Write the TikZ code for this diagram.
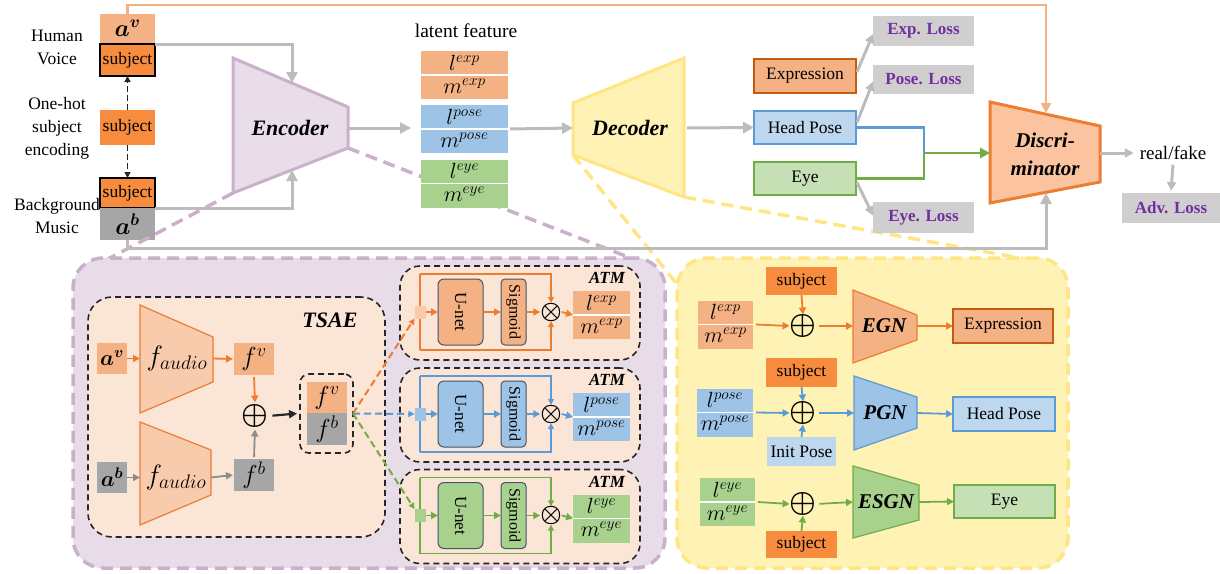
\RequirePackage{fix-cm}
\documentclass[tikz,border=0pt]{standalone}
\usepackage{amsmath}
\usepackage{bm}
\usepackage{graphicx}
\usepackage{fontspec}
\setmainfont{Liberation Serif}
\usetikzlibrary{arrows.meta,calc}
\definecolor{lor}{HTML}{F4B183}
\definecolor{sor}{HTML}{F88C3E}
\definecolor{dor}{HTML}{C55A11}
\definecolor{mor}{HTML}{ED7D31}
\definecolor{pch}{HTML}{F8CBAD}
\definecolor{disf}{HTML}{FBC3A0}
\definecolor{lbl}{HTML}{9DC3E6}
\definecolor{llbl}{HTML}{BDD7EE}
\definecolor{bbl}{HTML}{5B9BD5}
\definecolor{lgr}{HTML}{A9D18E}
\definecolor{llgr}{HTML}{C5E0B4}
\definecolor{bgr}{HTML}{70AD47}
\definecolor{gra}{HTML}{A6A6A6}
\definecolor{agr}{HTML}{BCBCBC}
\definecolor{mgr}{HTML}{8C8C8C}
\definecolor{lossf}{HTML}{D0CECE}
\definecolor{lossp}{HTML}{7030A0}
\definecolor{encf}{HTML}{E8DDE9}
\definecolor{encb}{HTML}{CAB0CA}
\definecolor{purf}{HTML}{E7DCE7}
\definecolor{yelf}{HTML}{FFF2B5}
\definecolor{yelb}{HTML}{FFE583}
\definecolor{peach}{HTML}{FBE5D6}
\definecolor{udark}{HTML}{44546A}
\newcommand\txtBI[1]{\fontsize{#1}{#1}\selectfont\bfseries\itshape}
\newcommand\mathsz{\fontsize{22}{22}\selectfont}
\newcommand\opsz{\fontsize{30}{30}\selectfont}
\newcommand\lmpair[6]{%
  \node[fill=#5, minimum width=#4, minimum height=48] (#1) at (#2,#3) {};
  \draw[white, line width=1.3] (#1.west) -- (#1.east);
  \node[font=\mathsz] (#1a) at ($(#1)+(0,-12.5)$) {$l^{#6}$};
  \node[font=\mathsz] (#1b) at ($(#1)+(0,11)$) {$m^{#6}$};
}
\newcommand\myatm[6]{%
  \node[dbox, minimum width=240, minimum height=94] (#5box) at (520,#1+1) {};
  \node[font={\txtBI{17}}] (#5lab) at (607,#1-34) {ATM};
  \node[fill=#3, minimum width=11, minimum height=13] (#5sq) at (420,#1) {};
  \node[fill=#4, draw=udark, line width=1, rounded corners=6pt, minimum width=45, minimum height=66] (#5un) at (460.5,#1) {};
  \node[rotate=-90, font=\fontsize{17}{17}\selectfont] (#5unt) at (460.5,#1) {U-net};
  \node[fill=#4, draw=udark, line width=1, rounded corners=4pt, minimum width=25, minimum height=66] (#5sg) at (513.5,#1) {};
  \node[rotate=-90, font=\fontsize{16}{16}\selectfont] (#5sgt) at (513.5,#1) {Sigmoid};
  \node[font=\fontsize{24}{24}\selectfont] (#5ot) at (551,#1) {$\bm{\otimes}$};
  \lmpair{#5out}{601.5}{#1+3}{57}{#4}{#6}
  \coordinate (#5tl) at (420,#1-38);
  \coordinate (#5bl) at (420,#1+38);
  \draw[#2, line width=1.5] (#5sq.north) -- (#5tl);
  \draw[#2, line width=1.5] (#5sq.south) -- (#5bl);
  \draw[#2, line width=1.5, -{Triangle[length=6pt,width=6pt]}] (#5tl) -| (#5ot.north);
  \draw[#2, line width=1.5, -{Triangle[length=6pt,width=6pt]}] (#5bl) -| (#5ot.south);
  \draw[#2, sarr] (#5sq.east) -- (#5un.west);
  \draw[#2, sarr] (#5un.east) -- (#5sg.west);
  \draw[#2, sarr] (#5sg.east) -- (#5ot.west);
  \draw[#2, sarr] (#5ot.east) -- (#5out.west);
}
\begin{document}
\begin{tikzpicture}[x=1pt,y=-1pt, font=\fontsize{17.5}{23}\selectfont,
  every node/.style={inner sep=0pt, outer sep=0pt},
  garr/.style={draw=agr, line width=3pt, -{Triangle[length=11pt,width=11pt]}},
  garrs/.style={draw=agr, line width=3pt, -{Triangle[length=9pt,width=9pt]}},
  sarr/.style={line width=1.8pt, -{Triangle[length=7pt,width=7pt]}},
  dbox/.style={draw=black!85, line width=1.6pt, dash pattern=on 6pt off 4pt, rounded corners=20pt, fill=peach},
  region/.style={line width=3.5pt, dash pattern=on 12pt off 7pt, rounded corners=30pt},
  lossbox/.style={fill=lossf, text=lossp, font=\fontsize{17}{17}\selectfont\bfseries},
  subj/.style={fill=sor, minimum width=55},
]
\useasboundingbox (0,0) rectangle (1220,573);

% ---------- top-left inputs ----------
\node[fill=lor, minimum width=55, minimum height=29] (av) at (127.5,28.5) {\fontsize{24}{24}\selectfont$\bm{a}^{\bm{v}}$};
\node[subj, draw=black, line width=1.2, minimum height=32] (s1) at (127.5,60) {subject};
\node[subj, minimum height=35] (s0) at (127.5,127.5) {subject};
\node[subj, draw=black, line width=1.2, minimum height=30] (s2) at (127.5,193) {subject};
\node[fill=gra, minimum width=55, minimum height=32] (ab) at (127.5,224) {\fontsize{24}{24}\selectfont$\bm{a}^{\bm{b}}$};
\node[align=center] (hv) at (57,47) {Human\\Voice};
\node[align=center] (oh) at (57,128) {One-hot\\subject\\encoding};
\node[align=center] (bm) at (57,216) {Background\\Music};
\draw[black!85, line width=1.3pt, dash pattern=on 6pt off 3pt, -{Triangle[length=6pt,width=6pt]}] (s0.north) -- (s1.south);
\draw[black!85, line width=1.3pt, dash pattern=on 6pt off 3pt, -{Triangle[length=6pt,width=6pt]}] (s0.south) -- (s2.north);

% ---------- encoder ----------
\draw[fill=encf, draw=encb, line width=3pt] (233,58) -- (348,107) -- (348,148) -- (233,193) -- cycle;
\node[font={\txtBI{22}}] (enc) at (290,128) {Encoder};
\coordinate (encR) at (349,128);
\coordinate (encT) at (292,83);
\coordinate (encB) at (292,170);
\coordinate (encBL) at (233,193);
\coordinate (encBR) at (348,148);
\draw[garr] (s1.north east) -| (encT);
\draw[garr] (s2.south east) -| (encB);

% ---------- decoder ----------
\draw[fill=yelf, draw=yelb, line width=3pt] (573,103) -- (684,58) -- (684,197) -- (573,155) -- cycle;
\node[font={\txtBI{22}}] (dec) at (630,128) {Decoder};
\coordinate (decL) at (573,128);
\coordinate (decR) at (687,128);
\coordinate (decBL) at (573,155);
\coordinate (decBR) at (684,197);

% ---------- dashed zoom connectors ----------
\coordinate (purTL) at (108,259);
\coordinate (purTR) at (641,262);
\coordinate (yelTL) at (677,284);
\coordinate (yelTR) at (1042,262);
\draw[encb, line width=3.5pt, dash pattern=on 12pt off 7pt] (encBL) -- (purTL);
\draw[encb, line width=3.5pt, dash pattern=on 12pt off 7pt] (encBR) -- (purTR);
\draw[yelb, line width=3.5pt, dash pattern=on 12pt off 7pt] (decBL) -- (yelTL);
\draw[yelb, line width=3.5pt, dash pattern=on 12pt off 7pt] (decBR) -- (yelTR);

% ---------- latent features ----------
\node (lf) at (466,31) {\fontsize{19.5}{20}\selectfont latent feature};
\lmpair{lexp}{464.5}{75}{87}{lor}{exp}
\lmpair{lpose}{464.5}{129}{87}{lbl}{pose}
\lmpair{leye}{464.5}{183.5}{87}{lgr}{eye}
\coordinate (latIn) at (411,128);
\draw[garr] (encR) -- (latIn);
\draw[garr] ($(lpose.east)+(2,0)$) -- (decL);

% ---------- outputs ----------
\node[fill=lor, draw=dor, line width=2.5pt, minimum width=102, minimum height=34] (expr) at (805,76) {Expression};
\node[fill=llbl, draw=bbl, line width=2.5pt, minimum width=102, minimum height=33] (hp) at (805,127.5) {Head Pose};
\node[fill=llgr, draw=bgr, line width=2.5pt, minimum width=102, minimum height=33] (eye) at (805,178.5) {Eye};
\draw[garr] (decR) -- (hp.west);

\node[lossbox, minimum width=101, minimum height=30] (el) at (923.5,31) {Exp. Loss};
\node[lossbox, minimum width=101, minimum height=29] (pl) at (923.5,79.5) {Pose. Loss};
\node[lossbox, minimum width=101, minimum height=31] (yl) at (923.5,217.5) {Eye. Loss};
\node[lossbox, minimum width=98, minimum height=30] (al) at (1171,208) {Adv. Loss};
\draw[garrs] ($(expr.east)+(1,-4)$) -- ($(el.west)+(0,3)$);
\draw[garrs] ($(hp.east)+(1,-5)$) -- ($(pl.west)+(0,2)$);
\draw[garrs] ($(eye.east)+(1,4)$) -- ($(yl.west)+(0,-2)$);

% ---------- discriminator ----------
\draw[fill=disf, draw=mor, line width=3pt] (990,102) -- (1100,126) -- (1100,182) -- (990,203) -- cycle;
\node[font=\fontsize{21}{28}\selectfont\bfseries\itshape, align=center] (disc) at (1045,154) {Discri-\\minator};
\coordinate (discL) at (990,153);
\coordinate (discR) at (1100,153);
\coordinate (discT) at (1046,113);
\coordinate (discB) at (1046,193);
\coordinate (jn) at (924,153);
\draw[bbl, line width=2.5pt] (hp.east) -| (jn);
\draw[bgr, line width=2.5pt] (eye.east) -| (jn);
\draw[bgr, line width=2.5pt, -{Triangle[length=10pt,width=10pt]}] (jn) -- (discL);
\node (rf) at (1173,153) {\fontsize{19}{19}\selectfont real/fake};
\draw[garrs] (discR) -- ($(rf.west)+(-6,0)$);
\draw[garrs] ($(rf.south)+(0,5)$) -- ($(al.north)+(0,-2)$);

% ---------- feedback loops ----------
\coordinate (topR) at (1046,5);
\coordinate (botR) at (1046,248);
\draw[lor, line width=2.5pt, -{Triangle[length=10pt,width=10pt]}] (av.north) |- (topR) -- (discT);
\draw[garr] (ab.south) |- (botR) -- (discB);

% ---------- bottom regions ----------
\node[region, fill=purf, draw=encb, minimum width=592, minimum height=310] (purreg) at (369,413) {};
\node[region, fill=yelf, draw=yelb, minimum width=391, minimum height=310] (yelreg) at (872.5,413) {};

% ---------- TSAE ----------
\node[dbox, rounded corners=24pt, minimum width=297, minimum height=240] (tsae) at (236.5,417) {};
\node[font={\txtBI{22}}] (tsael) at (330,320) {TSAE};
\node[fill=lor, minimum width=30, minimum height=31] (avs) at (112,358.5) {\fontsize{22}{22}\selectfont$\bm{a}^{\bm{v}}$};
\node[fill=gra, minimum width=30, minimum height=31] (abs) at (112,477.5) {\fontsize{22}{22}\selectfont$\bm{a}^{\bm{b}}$};
\draw[fill=pch, draw=mor, line width=1.2pt] (140,305) -- (213,337) -- (213,382) -- (140,413) -- cycle;
\draw[fill=pch, draw=mor, line width=1.2pt] (140,422) -- (211,450) -- (211,495) -- (140,525) -- cycle;
\node[font=\fontsize{28}{28}\selectfont] (fa1) at (177,358) {$f_{audio}$};
\node[font=\fontsize{28}{28}\selectfont] (fa2) at (176,477) {$f_{audio}$};
\coordinate (fa1L) at (140,358.5);
\coordinate (fa1R) at (213,358.5);
\coordinate (fa2L) at (140,477.5);
\coordinate (fa2R) at (211,477.5);
\node[fill=lor, minimum width=40, minimum height=32] (fv) at (254,359) {\fontsize{26}{26}\selectfont$f^v$};
\node[fill=gra, minimum width=40, minimum height=32] (fb) at (254,475) {\fontsize{26}{26}\selectfont$f^b$};
\node[font=\opsz] (op1) at (255,416) {$\bm{\oplus}$};
\draw[mor, sarr] (avs.east) -- (fa1L);
\draw[mor, sarr] (fa1R) -- ($(fv.west)+(-1,0)$);
\draw[mgr, sarr] (abs.east) -- (fa2L);
\draw[mgr, sarr] (fa2R) -- ($(fb.west)+(-1,0)$);
\draw[mor, sarr, shorten >=2pt, shorten <=2pt] (fv.south) -- (op1.north);
\draw[mgr, sarr, shorten >=2pt, shorten <=2pt] (fb.north) -- (op1.south);
\node[draw=black!85, line width=1.6pt, dash pattern=on 6pt off 4pt, rounded corners=9pt, minimum width=53, minimum height=79] (cc) at (326.5,413.5) {};
\node[fill=lor, minimum width=40, minimum height=31] (cfv) at (327,397.5) {\fontsize{26}{26}\selectfont$f^v$};
\node[fill=gra, minimum width=40, minimum height=32] (cfb) at (327,429) {\fontsize{26}{26}\selectfont$f^b$};
\draw[black!85, line width=2.2pt, -{Triangle[length=8pt,width=8pt]}, shorten <=4pt] (op1.east) -- ($(cc.west)+(-3,0)$);

% ---------- ATMs ----------
\myatm{312}{mor}{pch}{lor}{a1}{exp}
\myatm{414}{bbl}{lbl}{lbl}{a2}{pose}
\myatm{515.5}{bgr}{lgr}{lgr}{a3}{eye}
\draw[mor, line width=2pt, dash pattern=on 7pt off 4pt, -{Triangle[length=6pt,width=6pt]}] (cc.east) -- (a1sq.south west);
\draw[bbl, line width=2pt, dash pattern=on 7pt off 4pt, -{Triangle[length=6pt,width=6pt]}] (cc.east) -- (a2sq.west);
\draw[bgr, line width=2pt, dash pattern=on 7pt off 4pt, -{Triangle[length=6pt,width=6pt]}] (cc.east) -- (a3sq.north west);

% ---------- generators (yellow region) ----------
\node[fill=sor, minimum width=71, minimum height=28] (ysA) at (801.5,281) {subject};
\lmpair{ylA}{725.5}{324.5}{55}{lor}{exp}
\node[font=\opsz] (yopA) at (803,326) {$\bm{\oplus}$};
\draw[fill=lor, draw=mor, line width=1.2pt] (853,290) -- (917,315) -- (917,340) -- (853,363) -- cycle;
\node[font={\txtBI{21}}] (egn) at (884,326) {EGN};
\coordinate (egnL) at (853,326);
\coordinate (egnR) at (917,326);
\node[fill=lor, draw=dor, line width=2.5pt, minimum width=100, minimum height=34] (yexpr) at (1003,326) {Expression};
\draw[mor, sarr] ($(ylA.east)+(3,0)$) -- (yopA.west);
\draw[mor, sarr] (ysA.south) -- (yopA.north);
\draw[mor, sarr, shorten <=3pt] (yopA.east) -- (egnL);
\draw[mor, sarr] (egnR) -- (yexpr.west);

\node[fill=sor, minimum width=71, minimum height=29] (ysB) at (801.5,372.5) {subject};
\lmpair{ylB}{725}{412.5}{56}{lbl}{pose}
\node[font=\opsz] (yopB) at (803,413) {$\bm{\oplus}$};
\node[fill=llbl, minimum width=69, minimum height=29] (ip) at (801.5,451.5) {Init Pose};
\draw[fill=lbl, draw=bbl, line width=1.2pt] (854,376) -- (917,397) -- (917,428) -- (854,450) -- cycle;
\node[font={\txtBI{21}}] (pgn) at (885,413) {PGN};
\coordinate (pgnL) at (854,413);
\coordinate (pgnR) at (917,413);
\node[fill=llbl, draw=bbl, line width=2.5pt, minimum width=102, minimum height=34] (yhp) at (1004,414) {Head Pose};
\draw[bbl, sarr] ($(ylB.east)+(3,0)$) -- (yopB.west);
\draw[bbl, sarr] (ysB.south) -- (yopB.north);
\draw[bbl, sarr] (ip.north) -- (yopB.south);
\draw[bbl, sarr, shorten <=3pt] (yopB.east) -- (pgnL);
\draw[bbl, sarr] (pgnR) -- (yhp.west);

\lmpair{ylC}{727.5}{502}{55}{lgr}{eye}
\node[font=\opsz] (yopC) at (803,504) {$\bm{\oplus}$};
\node[fill=sor, minimum width=71, minimum height=27] (ysC) at (801.5,544.5) {subject};
\draw[fill=lgr, draw=bgr, line width=1.2pt] (853,466) -- (919,485) -- (919,520) -- (853,538) -- cycle;
\node[font={\txtBI{21}}] (esgn) at (886,502) {ESGN};
\coordinate (esgnL) at (853,502);
\coordinate (esgnR) at (919,502);
\node[fill=llgr, draw=bgr, line width=2.5pt, minimum width=101, minimum height=33] (yeye) at (1004.5,501.5) {Eye};
\draw[bgr, sarr] ($(ylC.east)+(3,0)$) -- (yopC.west);
\draw[bgr, sarr] (ysC.north) -- (yopC.south);
\draw[bgr, sarr, shorten <=3pt] (yopC.east) -- (esgnL);
\draw[bgr, sarr] (esgnR) -- (yeye.west);
\end{tikzpicture}
\end{document}
